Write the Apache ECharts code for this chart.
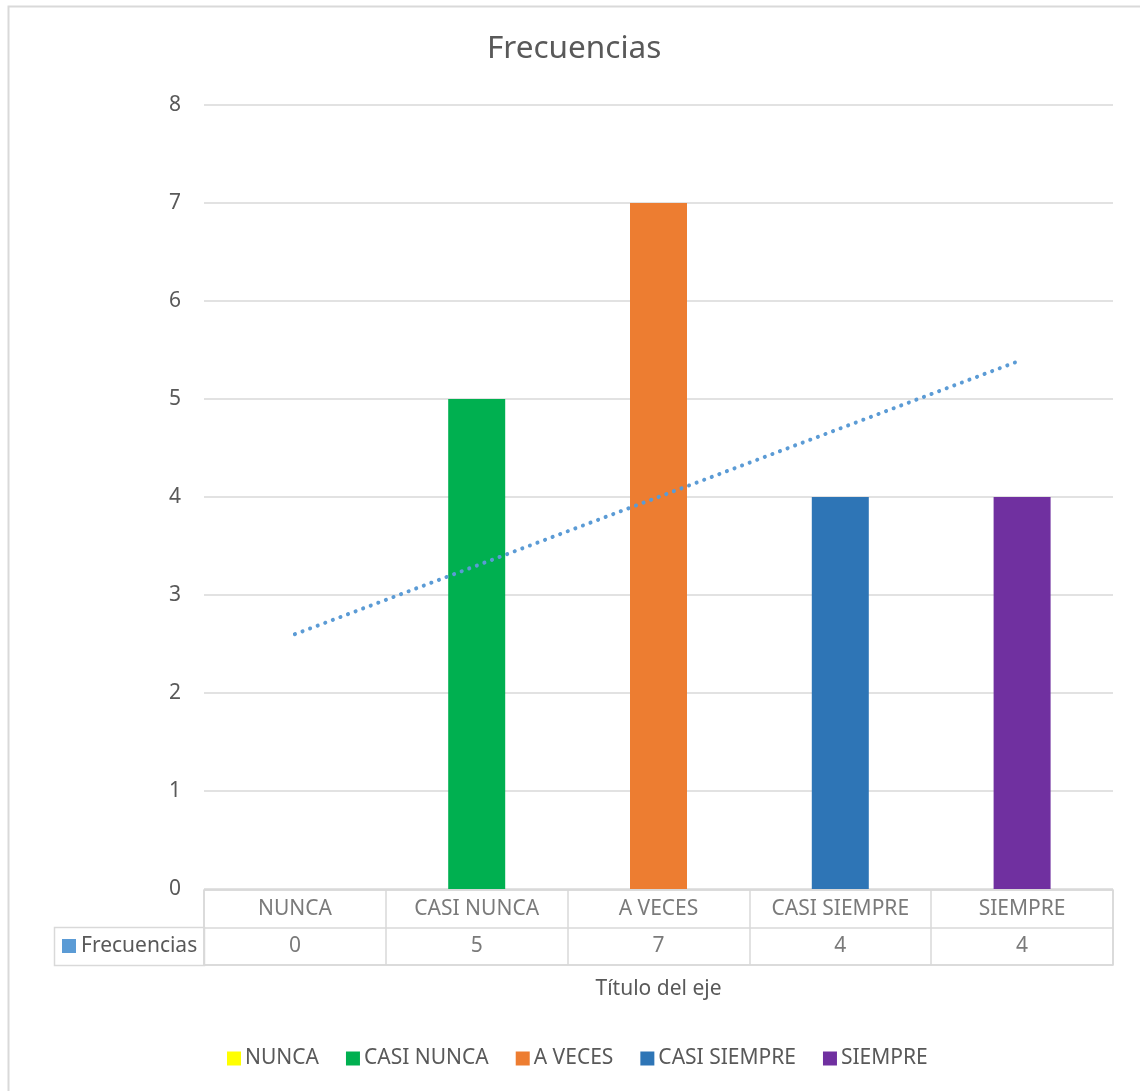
<!DOCTYPE html>
<html>
<head>
<meta charset="utf-8">
<script src="https://cdn.jsdelivr.net/npm/echarts@6.0.0/dist/echarts.min.js"></script>
<style>
  html, body { margin: 0; padding: 0; background: #fff; }
  #root { width: 1140px; height: 1091px; }
</style>
</head>
<body>
<div id="root"></div>
<script>
// data
const categories = ['NUNCA', 'CASI NUNCA', 'A VECES', 'CASI SIEMPRE', 'SIEMPRE'];
const frecuencias = [0, 5, 7, 4, 4];
const barColors = ['#ffff00', '#00b050', '#ed7d31', '#2e75b6', '#7030a0'];
// dotted linear trendline, end points as seen in the picture
const trendPoints = [['NUNCA', 2.6], ['SIEMPRE', 5.4]];
const yTicks = [0, 1, 2, 3, 4, 5, 6, 7, 8];

(function () {
  const textColor = '#595959';
  const lineColor = '#d9d9d9';
  const font = '"Noto Sans", "Open Sans", sans-serif';
  const fs = 21;

  // one stacked series per category so the legend lists each category
  const barSeries = categories.map((name, i) => ({
    name: name,
    type: 'bar',
    stack: 'frec',
    xAxisIndex: 0,
    yAxisIndex: 0,
    barWidth: 57,
    itemStyle: { color: barColors[i] },
    data: frecuencias.map((v, j) => (j === i ? v : '-'))
  }));

  // data table cells, drawn as invisible scatter points with labels
  const nameCells = categories.map(c => [c, 'names', c]);
  const valueCells = categories.map((c, i) => [c, 'values', frecuencias[i]]);

  const cellLabel = {
    show: true,
    position: 'inside',
    color: textColor,
    fontFamily: font,
    fontSize: fs,
    formatter: p => String(p.value[2])
  };

  const option = {
    animation: false,
    backgroundColor: '#ffffff',
    textStyle: { fontFamily: font },
    title: {
      text: 'Frecuencias',
      left: 482,
      top: 28,
      textStyle: { color: textColor, fontSize: 31.5, fontWeight: 'normal', fontFamily: font }
    },
    legend: {
      data: categories,
      left: 222,
      top: 1043,
      itemWidth: 14,
      itemHeight: 14,
      itemGap: 27,
      icon: 'rect',
      textStyle: { color: textColor, fontSize: fs, fontFamily: font, padding: [0, 0, 0, -1] }
    },
    grid: [
      { left: 204, right: 27, top: 105, height: 784 },
      { left: 204, right: 27, top: 890, height: 75, show: true, borderColor: lineColor, borderWidth: 1.5 }
    ],
    xAxis: [
      {
        gridIndex: 0,
        type: 'category',
        data: categories,
        axisLine: { show: false },
        axisTick: { show: false },
        axisLabel: { show: false }
      },
      {
        gridIndex: 1,
        type: 'category',
        data: categories,
        axisLine: { show: false },
        axisTick: { show: false },
        axisLabel: { show: false },
        splitLine: { show: true, lineStyle: { color: lineColor, width: 1.5 } },
        name: 'Título del eje',
        nameLocation: 'middle',
        nameGap: 14,
        nameTextStyle: { color: textColor, fontSize: fs, fontFamily: font }
      }
    ],
    yAxis: [
      {
        gridIndex: 0,
        type: 'value',
        min: 0,
        max: yTicks[yTicks.length - 1],
        interval: 1,
        axisLine: { show: false },
        axisTick: { show: false },
        axisLabel: { color: textColor, fontSize: fs, fontFamily: font, margin: 23 },
        splitLine: { lineStyle: { color: lineColor, width: 1.5 } }
      },
      {
        gridIndex: 1,
        type: 'category',
        data: ['names', 'values'],
        inverse: true,
        axisLine: { show: false },
        axisTick: { show: false },
        axisLabel: { show: false },
        splitLine: { show: true, lineStyle: { color: lineColor, width: 1.5 } }
      }
    ],
    series: barSeries.concat([
      {
        name: 'Tendencia',
        type: 'line',
        xAxisIndex: 0,
        yAxisIndex: 0,
        showSymbol: false,
        symbol: 'none',
        lineStyle: { color: '#5b9bd5', width: 4, type: [0.1, 8], cap: 'round' },
        data: trendPoints,
        z: 5
      },
      {
        type: 'scatter',
        xAxisIndex: 1,
        yAxisIndex: 1,
        symbolSize: 0,
        label: cellLabel,
        data: nameCells
      },
      {
        type: 'scatter',
        xAxisIndex: 1,
        yAxisIndex: 1,
        symbolSize: 0,
        label: cellLabel,
        data: valueCells
      }
    ]),
    graphic: [
      {
        type: 'rect',
        shape: { x: 8.5, y: 6.5, width: 1300, height: 1300 },
        style: { fill: 'none', stroke: lineColor, lineWidth: 2 },
        silent: true
      },
      {
        type: 'rect',
        shape: { x: 54.5, y: 927.5, width: 150, height: 38 },
        style: { fill: 'none', stroke: lineColor, lineWidth: 1.5 },
        silent: true
      },
      {
        type: 'rect',
        shape: { x: 62, y: 939, width: 14, height: 14 },
        style: { fill: '#5b9bd5' },
        silent: true
      },
      {
        type: 'text',
        x: 81,
        y: 946,
        style: { text: 'Frecuencias', fill: textColor, font: fs + 'px ' + font, verticalAlign: 'middle' },
        silent: true
      }
    ]
  };

  const chart = echarts.init(document.getElementById('root'));
  chart.setOption(option);
})();
</script>
</body>
</html>
